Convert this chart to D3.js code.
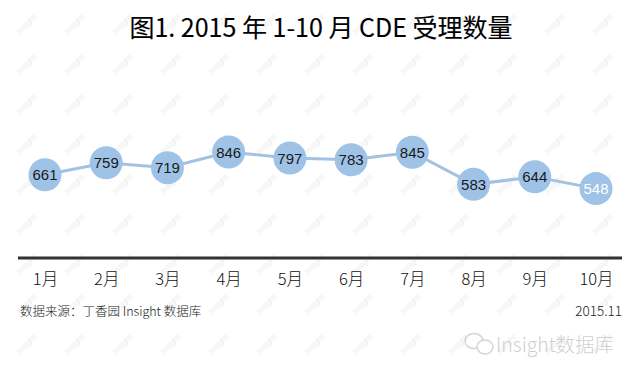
<!DOCTYPE html>
<html><head><meta charset="utf-8">
<script src="https://cdn.jsdelivr.net/npm/d3@7/dist/d3.min.js"></script>
<style>body{margin:0;background:#fff}svg{display:block}</style>
</head><body>
<script>
const months = ["1月","2月","3月","4月","5月","6月","7月","8月","9月","10月"];
const values = [661,759,719,846,797,783,845,583,644,548];
const title = "图1. 2015 年 1-10 月 CDE 受理数量";
const source = "数据来源：丁香园 Insight 数据库";
const dateLabel = "2015.11";

const W=640,H=375;
const svg=d3.select("body").append("svg").attr("width",W).attr("height",H);
const font="'Noto Sans CJK SC','Noto Sans',sans-serif";

// watermark grid
const wm=svg.append("g");
for(let r=0;r<9;r++){
  for(let c=0;c<13;c++){
    const x=28+c*48, y=26+r*40;
    wm.append("text").attr("transform",`translate(${x},${y}) rotate(-45)`)
      .attr("font-family","Helvetica,Arial,sans-serif").attr("font-size",8)
      .attr("fill","#ececec").attr("text-anchor","middle").text("Insight");
  }
}

svg.append("text").attr("x",321).attr("y",37).attr("text-anchor","middle")
  .attr("font-family",font).attr("font-size",25).attr("font-weight",400)
  .attr("fill","#000").attr("stroke","#000").attr("stroke-width",0.12).text(title);

const x=d3.scalePoint().domain(months).range([45,596]);
const y=d3.scaleLinear().domain([500,900]).range([194.5,145.5]);

svg.append("line").attr("x1",18).attr("x2",622).attr("y1",258).attr("y2",258)
  .attr("stroke","#333").attr("stroke-width",3);

const axis=d3.axisBottom(x).tickSize(0).tickPadding(0);
const ag=svg.append("g").attr("transform","translate(0,270)").call(axis);
ag.select(".domain").remove();
ag.selectAll("text").attr("font-family",font).attr("font-size",16.5).attr("font-weight",300)
  .attr("fill","#111").attr("dy","0.88em");

const data=months.map((m,i)=>({m,v:values[i]}));
svg.append("path").datum(data)
  .attr("d",d3.line().x(d=>x(d.m)).y(d=>y(d.v)))
  .attr("fill","none").attr("stroke","#a3c2e2").attr("stroke-width",3);

const g=svg.selectAll(".pt").data(data).join("g").attr("transform",d=>`translate(${x(d.m)},${y(d.v)})`);
g.append("circle").attr("r",16.5).attr("fill","#9ec3e7");
g.append("text").attr("text-anchor","middle").attr("dy","0.36em")
  .attr("font-family","Helvetica,Arial,'Liberation Sans',sans-serif").attr("font-size",15)
  .attr("fill",(d,i)=>i===data.length-1?"#fff":"#1a1a1a").text(d=>d.v);

svg.append("text").attr("x",20).attr("y",316).attr("font-family",font).attr("font-size",12.5)
  .attr("font-weight",300).attr("fill","#222").text(source);
svg.append("text").attr("x",622).attr("y",316).attr("text-anchor","end").attr("font-family",font)
  .attr("font-size",13.5).attr("font-weight",300).attr("fill","#222").text(dateLabel);

// bottom logo watermark
const lg=svg.append("g").attr("fill","none").attr("stroke","#d4d4d4").attr("stroke-width",1.5);
lg.append("ellipse").attr("cx",474).attr("cy",341).attr("rx",9).attr("ry",7.5);
lg.append("ellipse").attr("cx",485).attr("cy",347).attr("rx",8).attr("ry",7).attr("fill","#fff");
svg.append("text").attr("x",496).attr("y",352).attr("font-family",font).attr("font-size",19.5)
  .attr("font-weight",300).attr("fill","#d0d0d0").text("Insight数据库");
</script>
</body></html>
